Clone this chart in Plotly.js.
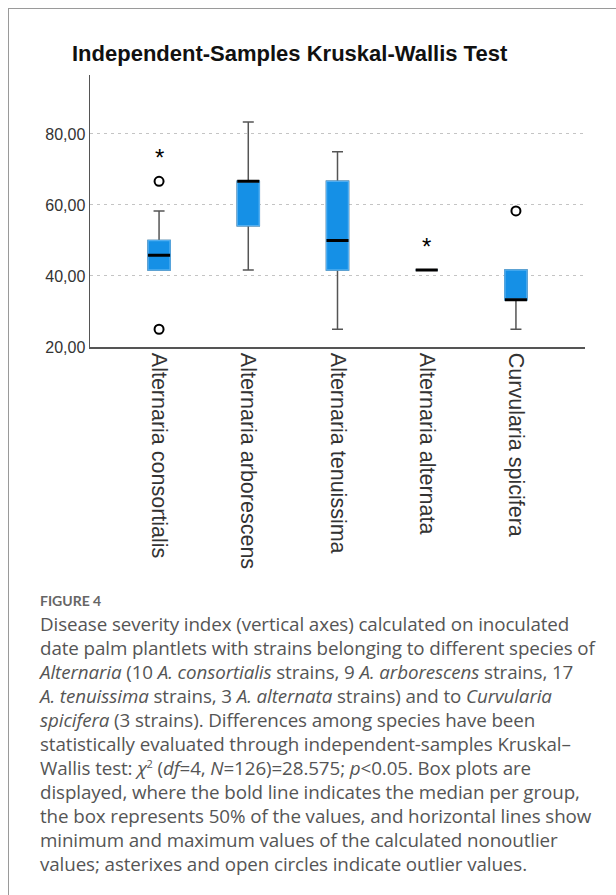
<!DOCTYPE html>
<html>
<head>
<meta charset="utf-8">
<script src="https://cdn.plot.ly/plotly-3.0.1.min.js"></script>
<style>
  html, body { margin:0; padding:0; background:#fff; overflow:hidden; }
  #wrap { position:relative; width:616px; height:895px; }
  #chart { position:absolute; left:0; top:0; width:616px; height:895px; }
  #frame { position:absolute; left:8px; top:8px; width:640px; height:920px;
           border-left:1.5px solid #9a9a9a; border-top:1.5px solid #9a9a9a; pointer-events:none; }
  #caption { position:absolute; left:40px; top:590px; width:575px; color:#555;
             font-family:"Open Sans", Lato, sans-serif; }
  #caption .fig { font-family:Lato, "Open Sans", sans-serif; font-size:14px; font-weight:700; line-height:22px; color:#666; }
  #caption .txt { font-size:18.8px; line-height:24px; white-space:nowrap; letter-spacing:-0.1px; }
</style>
</head>
<body>
<div id="wrap">
  <div id="chart"></div>
  <div id="frame"></div>
  <div id="caption">
    <div class="fig">FIGURE 4</div>
    <div class="txt">
      Disease severity index (vertical axes) calculated on inoculated<br>
      date palm plantlets with strains belonging to different species of<br>
      <i>Alternaria</i> (10 <i>A. consortialis</i> strains, 9 <i>A. arborescens</i> strains, 17<br>
      <i>A. tenuissima</i> strains, 3 <i>A. alternata</i> strains) and to <i>Curvularia</i><br>
      <i>spicifera</i> (3 strains). Differences among species have been<br>
      statistically evaluated through independent-samples Kruskal–<br>
      Wallis test: <i>χ</i><sup style="font-size:11px;line-height:0">2</sup> (<i>df</i>=4, <i>N</i>=126)=28.575; <i>p</i>&lt;0.05. Box plots are<br>
      displayed, where the bold line indicates the median per group,<br>
      the box represents 50% of the values, and horizontal lines show<br>
      minimum and maximum values of the calculated nonoutlier<br>
      values; asterixes and open circles indicate outlier values.
    </div>
  </div>
</div>
<script>
// ---- data ----
const categories = ["Alternaria consortialis", "Alternaria arborescens", "Alternaria tenuissima", "Alternaria alternata", "Curvularia spicifera"];
const q1Values     = [41.67, 54.17, 41.67, 41.67, 33.33];
const medianValues = [45.83, 66.67, 50.00, 41.67, 33.33];
const q3Values     = [50.00, 66.67, 66.67, 41.67, 41.67];
const lowerWhisker = [41.67, 41.67, 25.00, 41.67, 25.00];
const upperWhisker = [58.33, 83.33, 75.00, 41.67, 41.67];
// outliers
const circleOutlierCats = ["Alternaria consortialis", "Alternaria consortialis", "Curvularia spicifera"];
const circleOutlierVals = [66.67, 25.00, 58.33];
const starOutlierCats   = ["Alternaria consortialis", "Alternaria alternata"];
const starOutlierVals   = [75.00, 50.00];
const yTickVals  = [20, 40, 60, 80];
const yTickText  = ["20,00", "40,00", "60,00", "80,00"];

const BOXW = 0.247;
const traces = [
  { // whiskers
    type:'box', x:categories, q1:q1Values, median:medianValues, q3:q3Values,
    lowerfence:lowerWhisker, upperfence:upperWhisker, width:BOXW, whiskerwidth:0.5,
    boxpoints:false, fillcolor:'rgba(0,0,0,0)', line:{color:'#555', width:1.5},
    hoverinfo:'skip', showlegend:false
  },
  { // box body
    type:'box', x:categories, q1:q1Values, median:medianValues, q3:q3Values,
    lowerfence:q1Values, upperfence:q3Values, width:BOXW, whiskerwidth:0,
    boxpoints:false, fillcolor:'#1590e6', line:{color:'#52aef0', width:1.5},
    hoverinfo:'skip', showlegend:false
  },
  { // median
    type:'box', x:categories, q1:medianValues, median:medianValues, q3:medianValues,
    lowerfence:medianValues, upperfence:medianValues, width:BOXW, whiskerwidth:0,
    boxpoints:false, fillcolor:'rgba(0,0,0,0)', line:{color:'#000', width:3},
    hoverinfo:'skip', showlegend:false
  },
  {
    type:'scatter', mode:'markers', x:circleOutlierCats, y:circleOutlierVals,
    marker:{symbol:'circle-open', size:9, color:'#000', line:{width:2, color:'#000'}},
    hoverinfo:'skip', showlegend:false
  }
];

// star outliers drawn as "*" glyphs at their data positions
const starAnnotations = starOutlierCats.map((c, i) => ({
  x:c, y:starOutlierVals[i], xref:'x', yref:'y', text:'*', showarrow:false,
  yshift:-6, font:{family:'"Liberation Sans", Arial, sans-serif', size:24, color:'#000'}
}));

const layout = {
  width:616, height:895,
  margin:{l:90, r:31, t:75, b:548, pad:0},
  paper_bgcolor:'rgba(0,0,0,0)', plot_bgcolor:'rgba(0,0,0,0)',
  boxmode:'overlay',
  showlegend:false,
  annotations:starAnnotations,
  title:{
    text:'Independent-Samples Kruskal-Wallis Test',
    x:72/616, xanchor:'left', xref:'container',
    y:1-53/895, yanchor:'middle', yref:'container',
    font:{family:'"Liberation Sans", Arial, sans-serif', size:22, color:'#111', weight:'bold'}
  },
  xaxis:{
    type:'category', range:[-0.774, 4.774], fixedrange:true,
    showline:true, linecolor:'#555', linewidth:1.5, mirror:false,
    showgrid:false, zeroline:false, ticks:'', tickangle:90,
    tickfont:{family:'"Liberation Sans", Arial, sans-serif', size:21.5, color:'#333'}
  },
  yaxis:{
    range:[20, 96.6], fixedrange:true,
    showline:true, linecolor:'#555', linewidth:1.5,
    tickvals:yTickVals, ticktext:yTickText, ticks:'',
    showgrid:true, gridcolor:'#c4c4c4', gridwidth:1, griddash:'3px,4px',
    zeroline:false,
    tickfont:{family:'"Liberation Sans", Arial, sans-serif', size:16, color:'#333'}
  }
};

Plotly.newPlot('chart', traces, layout, {staticPlot:true, displayModeBar:false});
</script>
</body>
</html>
